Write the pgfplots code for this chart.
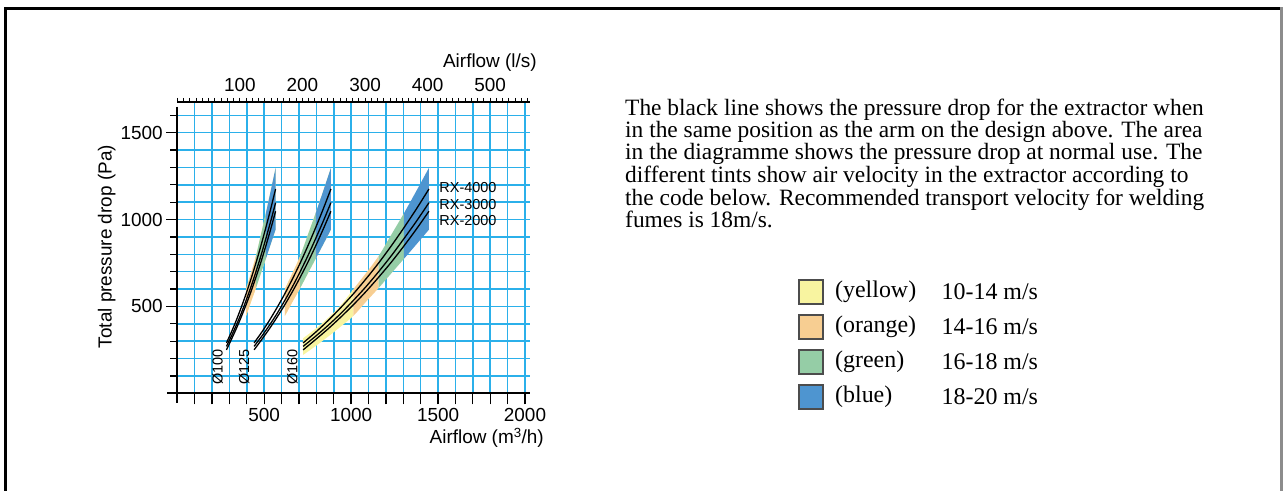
\documentclass[border=0pt]{standalone}
\usepackage{fontspec}
\setmainfont{Liberation Serif}
\newfontfamily\arial{Liberation Sans}
\usepackage{pgfplots}
\usepackage{pgfplotstable}
\pgfplotsset{compat=1.18}
\usepgfplotslibrary{fillbetween}

\definecolor{gridblue}{HTML}{2BB0EA}
\definecolor{vyellow}{HTML}{F8F4A0}
\definecolor{vorange}{HTML}{F7CE92}
\definecolor{vgreen}{HTML}{95CDA6}
\definecolor{vblue}{HTML}{4E95D0}

\newcommand\chartfont{\arial\fontsize{19}{22}\selectfont}
\newcommand\smallfont{\arial\fontsize{14.5}{16}\selectfont}

% airflow (m3/h) at 10,11,...,20 m/s, band edges and the three extractor lines (Pa)
\pgfplotstableread{
q     top  bot  rx4  rx3  rx2
282.7 317  221  290  270  250
311.0 372  272  352  329  310
339.3 435  327  420  392  372
367.6 507  385  494  460  439
395.8 600  446  573  535  510
424.1 692  527  659  614  586
452.4 790  606  750  700  668
480.7 912  690  848  791  754
508.9 1035 773  952  889  847
537.2 1165 857  1061 990  945
565.5 1298 942  1176 1097 1048
}\dA
\pgfplotstableread{
q     top  bot  rx4  rx3  rx2
441.8 317  221  290  270  250
486.0 372  272  352  329  310
530.1 435  327  420  392  372
574.3 507  385  494  460  439
618.5 600  446  573  535  510
662.7 692  527  659  614  586
706.9 790  606  750  700  668
751.0 912  690  848  791  754
795.2 1035 773  952  889  847
839.4 1165 857  1061 990  945
883.6 1298 942  1176 1097 1048
}\dB
\pgfplotstableread{
q      top  bot  rx4  rx3  rx2
723.8  317  221  290  270  250
796.2  372  272  352  329  310
868.6  435  327  420  392  372
941.0  507  385  494  460  439
1013.3 600  446  573  535  510
1085.7 692  527  659  614  586
1158.1 790  606  750  700  668
1230.5 912  690  848  791  754
1302.9 1035 773  952  889  847
1375.3 1165 857  1061 990  945
1447.6 1298 942  1176 1097 1048
}\dC

\newcommand\tint[4]{% colour, upper path, lower path, from, to
  \addplot[fill=#1, draw=none] fill between[of=#2, soft clip={domain=#3:#4}];}

\begin{document}
\begin{tikzpicture}[x=1bp,y=1bp]
% frame
\draw[line width=3bp] (5.5,0) -- (5.5,482.5) -- (1281,482.5);
\draw[line width=2.5bp, black!45] (1281.7,0) -- (1281.7,484);

\begin{axis}[
    at={(177.3bp,97.7bp)}, anchor=south west,
    scale only axis, width=352.9bp, height=291bp,
    xmin=0, xmax=2030, ymin=0, ymax=1675,
    clip=false,
    axis line style={draw=none},
    xtick={100,200,...,2000},
    xticklabels={,,,,500,,,,,1000,,,,,1500,,,,,2000},
    ytick={500,1000,1500},
    minor ytick={100,200,...,1600},
    xmajorgrids, ymajorgrids, yminorgrids,
    grid style={gridblue, line width=1.6bp},
    minor grid style={gridblue, line width=1.6bp},
    tick align=outside,
    xtick pos=bottom, ytick pos=left,
    major tick length=11bp, minor tick length=7bp,
    tick style={black, line width=1.3bp},
    tick label style={font=\chartfont},
    /pgf/number format/assume math mode=true,
    /pgf/number format/1000 sep={},
    xlabel={Airflow (m\textsuperscript{3}/h)},
    ylabel={Total pressure drop (Pa)},
    every axis x label/.style={at={(rel axis cs:1.039,-0.154)}, anchor=east, inner sep=0pt, font=\chartfont},
    every axis y label/.style={at={(rel axis cs:-0.2,0.504)}, rotate=90, anchor=center, font=\chartfont},
]
% band edges
\addplot[draw=none, smooth, name path=tA] table[x=q, y=top] {\dA};
\addplot[draw=none, smooth, name path=bA] table[x=q, y=bot] {\dA};
\addplot[draw=none, smooth, name path=tB] table[x=q, y=top] {\dB};
\addplot[draw=none, smooth, name path=bB] table[x=q, y=bot] {\dB};
\addplot[draw=none, smooth, name path=tC] table[x=q, y=top] {\dC};
\addplot[draw=none, smooth, name path=bC] table[x=q, y=bot] {\dC};

% velocity tints
\tint{vyellow}{tA and bA}{282.7}{395.8}
\tint{vorange}{tA and bA}{395.8}{452.4}
\tint{vgreen}{tA and bA}{452.4}{508.9}
\tint{vblue}{tA and bA}{508.9}{565.5}

\tint{vyellow}{tB and bB}{441.8}{618.5}
\tint{vorange}{tB and bB}{618.5}{706.9}
\tint{vgreen}{tB and bB}{706.9}{795.2}
\tint{vblue}{tB and bB}{795.2}{883.6}

\tint{vyellow}{tC and bC}{723.8}{1013.3}
\tint{vorange}{tC and bC}{1013.3}{1158.1}
\tint{vgreen}{tC and bC}{1158.1}{1302.9}
\tint{vblue}{tC and bC}{1302.9}{1447.6}

% extractor lines
\addplot[black, line width=1.3bp, smooth] table[x=q, y=rx4] {\dA};
\addplot[black, line width=1.3bp, smooth] table[x=q, y=rx3] {\dA};
\addplot[black, line width=1.3bp, smooth] table[x=q, y=rx2] {\dA};
\addplot[black, line width=1.3bp, smooth] table[x=q, y=rx4] {\dB};
\addplot[black, line width=1.3bp, smooth] table[x=q, y=rx3] {\dB};
\addplot[black, line width=1.3bp, smooth] table[x=q, y=rx2] {\dB};
\addplot[black, line width=1.3bp, smooth] table[x=q, y=rx4] {\dC};
\addplot[black, line width=1.3bp, smooth] table[x=q, y=rx3] {\dC};
\addplot[black, line width=1.3bp, smooth] table[x=q, y=rx2] {\dC};

% axis lines
\draw[line width=2.3bp] (axis cs:-57,0) -- (axis cs:2030,0);
\draw[line width=2.3bp] (axis cs:0,1650) -- (axis cs:0,-58);

\node[anchor=west, inner sep=0pt, font=\smallfont] at (axis cs:1507,1183) {RX-4000};
\node[anchor=west, inner sep=0pt, font=\smallfont] at (axis cs:1507,1088) {RX-3000};
\node[anchor=west, inner sep=0pt, font=\smallfont] at (axis cs:1507,992) {RX-2000};

\node[rotate=90, anchor=west, inner sep=0pt, font=\smallfont] at (axis cs:232,48) {Ø100};
\node[rotate=90, anchor=west, inner sep=0pt, font=\smallfont] at (axis cs:385,48) {Ø125};
\node[rotate=90, anchor=west, inner sep=0pt, font=\smallfont] at (axis cs:662,48) {Ø160};
\end{axis}

% l/s scale on top
\begin{axis}[
    at={(177.3bp,97.7bp)}, anchor=south west,
    scale only axis, width=352.9bp, height=291bp,
    xmin=0, xmax=563.89, ymin=0, ymax=1,
    axis x line*=top, axis y line=none,
    axis line style={line width=2bp},
    xtick={100,200,...,500},
    minor xtick={0,10,...,560},
    tick align=outside,
    major tick length=4.5bp, minor tick length=4.5bp,
    tick style={black, line width=1bp},
    tick label style={font=\chartfont},
    xticklabel style={yshift=3bp},
    /pgf/number format/assume math mode=true,
    xlabel={Airflow (l/s)},
    every axis x label/.style={at={(rel axis cs:1.019,1.1375)}, anchor=east, inner sep=0pt, font=\chartfont},
]
\addplot[draw=none] coordinates {(0,0) (563.89,1)};
\end{axis}

% explanatory text
\node[anchor=north west, align=left, inner sep=0,
      font=\fontsize{23.5}{17.6}\selectfont] at (625,392.2) {%
The black line shows the pressure drop for the extractor when\\
in the same position as the arm on the design above. The area\\
in the diagramme shows the pressure drop at normal use. The\\
different tints show air velocity in the extractor according to\\
the code below. Recommended transport velocity for welding\\
fumes is 18m/s.};

% velocity key
\foreach \c/\n/\v [count=\i from 0] in {vyellow/(yellow)/{10-14 m/s}, vorange/(orange)/{14-16 m/s}, vgreen/(green)/{16-18 m/s}, vblue/(blue)/{18-20 m/s}}{
  \pgfmathsetmacro\yc{199-35*\i}
  \draw[fill=\c, draw=black!70, line width=1.2bp] (799,\yc-12) rectangle (823,\yc+12);
  \node[anchor=west, inner sep=0, font=\fontsize{24}{26}\selectfont] at (835,\yc) {\n};
  \node[anchor=west, inner sep=0, font=\fontsize{24}{26}\selectfont] at (941.5,\yc) {\v};
}
\pgfresetboundingbox
\useasboundingbox (0,0) rectangle (1283,491);
\end{tikzpicture}
\end{document}
